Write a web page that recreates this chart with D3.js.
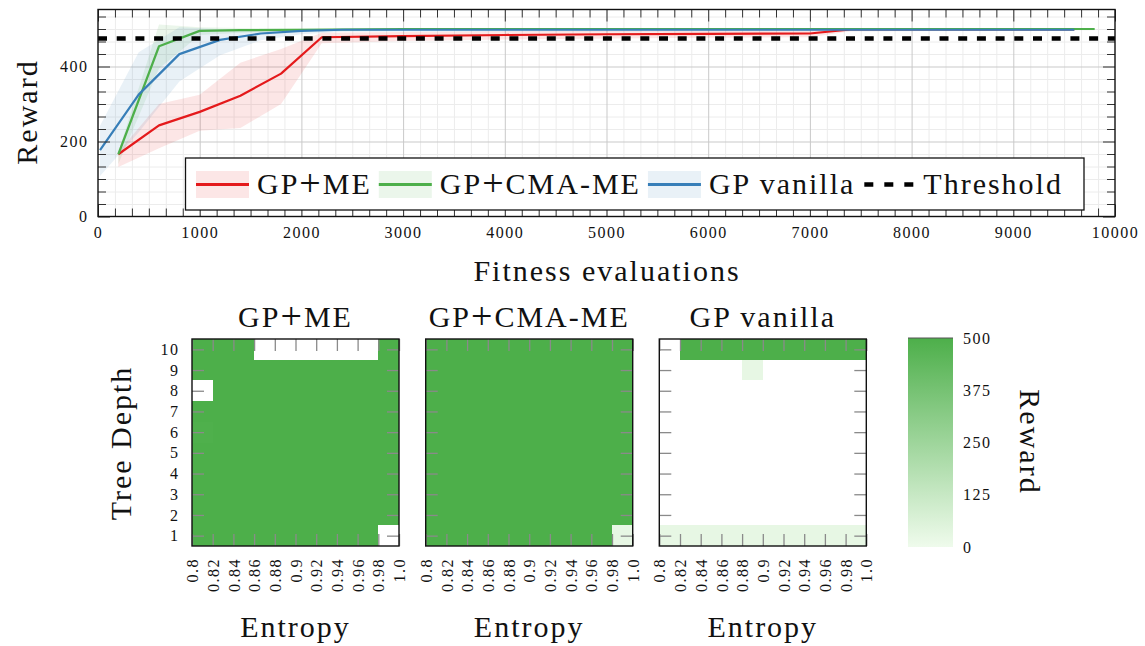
<!DOCTYPE html>
<html lang="en">

<head>
    <meta charset="UTF-8">
    <title>Reward curves and archives</title>
    <script src="https://d3js.org/d3.v7.min.js"></script>
    <style>
        html,
        body {
            margin: 0;
            padding: 0;
            overflow: hidden;
            background: #fff;
        }

        svg {
            display: block;
        }

        svg text {
            font-family: "Liberation Serif", Tinos, "DejaVu Serif", serif;
            fill: #111;
        }

        .tick text {
            font-size: 16px;
            letter-spacing: 1.5px;
        }

        .big {
            font-size: 30px;
            letter-spacing: 2px;
        }
    </style>
</head>

<body>
    <svg id="chart" width="1145" height="646"></svg>

    <script>
        // ---- top panel: reward over fitness evaluations ----
        const evalTicks = [0, 1000, 2000, 3000, 4000, 5000, 6000, 7000, 8000, 9000, 10000];
        const rewardTicks = [0, 200, 400];
        const threshold = 475;

        const meEvals = [200, 600, 1000, 1400, 1800, 2200, 3000, 4000, 5000, 6000, 7000, 7400, 9600];
        const meMean = [166, 243, 279, 322, 381, 478, 481, 484, 486, 487, 488, 499, 499];
        const meLow = [132, 182, 229, 236, 300, 462, 468, 472, 475, 477, 478, 494, 496];
        const meHigh = [172, 300, 325, 410, 447, 490, 492, 494, 495, 496, 497, 500, 500];

        const cmaEvals = [200, 600, 1000, 1400, 2000, 3000, 9800];
        const cmaMean = [166, 454, 495, 497, 498, 500, 500];
        const cmaLow = [140, 395, 484, 490, 494, 497, 497];
        const cmaHigh = [172, 512, 505, 503, 502, 502, 502];

        const vanEvals = [20, 400, 800, 1200, 1600, 2000, 2400, 9600];
        const vanMean = [177, 325, 433, 471, 488, 495, 498, 498];
        const vanLow = [108, 225, 360, 430, 470, 486, 493, 495];
        const vanHigh = [242, 438, 505, 500, 500, 500, 500, 500];

        const legendNames = ["GP+ME", "GP+CMA-ME", "GP vanilla", "Threshold"];
        const legendColors = ["#e41a1c", "#4daf4a", "#377eb8", "#000"];

        // ---- bottom panel: final archives ----
        const entropyTicks = [0.8, 0.82, 0.84, 0.86, 0.88, 0.9, 0.92, 0.94, 0.96, 0.98, 1.0];
        const entropyLabels = ["0.8", "0.82", "0.84", "0.86", "0.88", "0.9", "0.92", "0.94", "0.96", "0.98", "1.0"];
        const depthTicks = [1, 2, 3, 4, 5, 6, 7, 8, 9, 10];
        const archiveTitles = ["GP+ME", "GP+CMA-ME", "GP vanilla"];
        const colorbarTicks = [0, 125, 250, 375, 500];

        // rows: tree depth 1 .. 10, columns: entropy bins 0.80-0.82 .. 0.98-1.00, null = empty
        const archiveMe = [
            [500, 500, 500, 500, 500, 500, 500, 500, 500, null],
            [500, 500, 500, 500, 500, 500, 500, 500, 500, 500],
            [500, 500, 500, 500, 500, 500, 500, 500, 500, 500],
            [500, 500, 500, 500, 500, 500, 500, 500, 500, 500],
            [500, 500, 500, 500, 500, 500, 500, 500, 500, 500],
            [494, 500, 500, 500, 500, 500, 500, 500, 500, 500],
            [500, 500, 500, 500, 500, 500, 500, 500, 500, 500],
            [null, 500, 500, 500, 500, 500, 500, 500, 500, 500],
            [500, 500, 500, 500, 500, 500, 500, 500, 500, 500],
            [500, 500, 500, null, null, null, null, null, null, 500]
        ];
        const archiveCma = [
            [500, 500, 500, 500, 500, 500, 500, 500, 500, 25],
            [500, 500, 500, 500, 500, 500, 500, 500, 500, 500],
            [500, 500, 500, 500, 500, 500, 500, 500, 500, 500],
            [500, 500, 500, 500, 500, 500, 500, 500, 500, 500],
            [500, 500, 500, 500, 500, 500, 500, 500, 500, 500],
            [500, 500, 500, 500, 500, 500, 500, 500, 500, 500],
            [500, 500, 500, 500, 500, 500, 500, 500, 500, 500],
            [500, 500, 500, 500, 500, 500, 500, 500, 500, 500],
            [500, 500, 500, 500, 500, 500, 500, 500, 500, 500],
            [500, 500, 500, 500, 500, 500, 500, 500, 500, 500]
        ];
        const archiveVanilla = [
            [25, 25, 25, 25, 25, 25, 25, 25, 25, 25],
            [null, null, null, null, null, null, null, null, null, null],
            [null, null, null, null, null, null, null, null, null, null],
            [null, null, null, null, null, null, null, null, null, null],
            [null, null, null, null, null, null, null, null, null, null],
            [null, null, null, null, null, null, null, null, null, null],
            [null, null, null, null, null, null, null, null, null, null],
            [null, null, null, null, null, null, null, null, null, null],
            [null, null, null, null, 25, null, null, null, null, null],
            [null, 500, 500, 500, 500, 500, 500, 500, 500, 500]
        ];

        const svg = d3.select("#chart");

        function cleanAxis(g, color, width) {
            g.select(".domain").remove();
            g.selectAll(".tick line").attr("stroke", color).attr("stroke-width", width);
        }

        // the '+' sign is bigger in the original typesetting
        function setLabel(text, str) {
            str.split("+").forEach((part, i) => {
                if (i > 0) {
                    text.append("tspan").attr("font-size", "38px").attr("dy", 2).text("+");
                    text.append("tspan").attr("dy", -2).text(part);
                } else {
                    text.append("tspan").text(part);
                }
            });
            return text;
        }

        // ================= top chart =================
        const x = d3.scaleLinear().domain([0, 10000]).range([98, 1115]);
        const y = d3.scaleLinear().domain([0, 552]).range([216.5, 9.5]);
        const plotW = 1115 - 98;
        const plotH = 216.5 - 9.5;

        const minorEval = d3.range(60).map(i => i * 1000 / 6).filter((v, i) => i % 6 !== 0);
        const minorReward = d3.range(17).map(i => i * 200 / 6).filter((v, i) => i % 6 !== 0);

        const topPanel = svg.append("g");

        // grid
        topPanel.append("g").attr("transform", `translate(0,${y(0)})`)
            .call(d3.axisBottom(x).tickValues(minorEval).tickSize(-plotH).tickFormat(""))
            .call(g => cleanAxis(g, "#ececec", 1));
        topPanel.append("g").attr("transform", `translate(${x(0)},0)`)
            .call(d3.axisLeft(y).tickValues(minorReward).tickSize(-plotW).tickFormat(""))
            .call(g => cleanAxis(g, "#ececec", 1));
        topPanel.append("g").attr("transform", `translate(0,${y(0)})`)
            .call(d3.axisBottom(x).tickValues(evalTicks.slice(1, -1)).tickSize(-plotH).tickFormat(""))
            .call(g => cleanAxis(g, "#c9c9c9", 1));
        topPanel.append("g").attr("transform", `translate(${x(0)},0)`)
            .call(d3.axisLeft(y).tickValues(rewardTicks.slice(1)).tickSize(-plotW).tickFormat(""))
            .call(g => cleanAxis(g, "#c9c9c9", 1));

        // bands and lines
        svg.append("clipPath").attr("id", "plotClip")
            .append("rect").attr("x", x(0)).attr("y", y(552)).attr("width", plotW).attr("height", plotH);

        const series = [
            { evals: meEvals, mean: meMean, low: meLow, high: meHigh, color: legendColors[0] },
            { evals: cmaEvals, mean: cmaMean, low: cmaLow, high: cmaHigh, color: legendColors[1] },
            { evals: vanEvals, mean: vanMean, low: vanLow, high: vanHigh, color: legendColors[2] }
        ].map(s => ({
            color: s.color,
            points: s.evals.map((e, i) => ({ e, m: s.mean[i], lo: s.low[i], hi: s.high[i] }))
        }));

        const plot = topPanel.append("g").attr("clip-path", "url(#plotClip)");

        const area = d3.area().x(d => x(d.e)).y0(d => y(d.lo)).y1(d => y(d.hi));
        const line = d3.line().x(d => x(d.e)).y(d => y(d.m));

        plot.selectAll("path.band").data(series).enter().append("path")
            .attr("class", "band")
            .attr("d", d => area(d.points))
            .attr("fill", d => d.color)
            .attr("fill-opacity", 0.11);

        plot.selectAll("path.mean").data(series).enter().append("path")
            .attr("class", "mean")
            .attr("d", d => line(d.points))
            .attr("fill", "none")
            .attr("stroke", d => d.color)
            .attr("stroke-width", 2.2)
            .attr("stroke-linejoin", "round");

        plot.append("line")
            .attr("x1", x(0)).attr("x2", x(10000))
            .attr("y1", y(threshold)).attr("y2", y(threshold))
            .attr("stroke", "#000")
            .attr("stroke-width", 4.5)
            .attr("stroke-dasharray", "9,9.7");

        // ticks on all four sides
        topPanel.append("g").attr("transform", `translate(0,${y(0)})`)
            .call(d3.axisBottom(x).tickValues(minorEval).tickSize(-8).tickFormat(""))
            .call(g => cleanAxis(g, "#333", 1));
        topPanel.append("g").attr("transform", `translate(0,${y(552)})`)
            .call(d3.axisTop(x).tickValues(minorEval).tickSize(-8).tickFormat(""))
            .call(g => cleanAxis(g, "#333", 1));
        topPanel.append("g").attr("transform", `translate(${x(0)},0)`)
            .call(d3.axisLeft(y).tickValues(minorReward).tickSize(-8).tickFormat(""))
            .call(g => cleanAxis(g, "#333", 1));
        topPanel.append("g").attr("transform", `translate(${x(10000)},0)`)
            .call(d3.axisRight(y).tickValues(minorReward).tickSize(-8).tickFormat(""))
            .call(g => cleanAxis(g, "#333", 1));

        topPanel.append("g").attr("transform", `translate(0,${y(0)})`)
            .call(d3.axisBottom(x).tickValues(evalTicks).tickSize(-12).tickPadding(10).tickFormat(d3.format("d")))
            .call(g => cleanAxis(g, "#333", 1));
        topPanel.append("g").attr("transform", `translate(0,${y(552)})`)
            .call(d3.axisTop(x).tickValues(evalTicks).tickSize(-12).tickFormat(""))
            .call(g => cleanAxis(g, "#333", 1));
        topPanel.append("g").attr("transform", `translate(${x(0)},0)`)
            .call(d3.axisLeft(y).tickValues(rewardTicks).tickSize(-12).tickPadding(9.5).tickFormat(d3.format("d")))
            .call(g => cleanAxis(g, "#333", 1));
        topPanel.append("g").attr("transform", `translate(${x(10000)},0)`)
            .call(d3.axisRight(y).tickValues(rewardTicks).tickSize(-12).tickFormat(""))
            .call(g => cleanAxis(g, "#333", 1));

        topPanel.append("rect")
            .attr("x", x(0)).attr("y", y(552)).attr("width", plotW).attr("height", plotH)
            .attr("fill", "none").attr("stroke", "#111").attr("stroke-width", 1.4);

        // legend
        const legend = topPanel.append("g");
        legend.append("rect")
            .attr("x", 185.5).attr("y", 158).attr("width", 898.5).attr("height", 52)
            .attr("fill", "#fff").attr("stroke", "#111").attr("stroke-width", 1.3);

        let lx = 196;
        legendNames.forEach((name, i) => {
            const color = legendColors[i];
            if (i < 3) {
                legend.append("rect")
                    .attr("x", lx).attr("y", 171).attr("width", 53).attr("height", 27)
                    .attr("fill", color).attr("fill-opacity", 0.11);
                legend.append("line")
                    .attr("x1", lx).attr("x2", lx + 53).attr("y1", 184.5).attr("y2", 184.5)
                    .attr("stroke", color).attr("stroke-width", 3);
            } else {
                legend.append("line")
                    .attr("x1", lx + 2).attr("x2", lx + 51).attr("y1", 184.5).attr("y2", 184.5)
                    .attr("stroke", color).attr("stroke-width", 4.5)
                    .attr("stroke-dasharray", "9,11");
            }
            const t = legend.append("text")
                .attr("class", "big")
                .attr("x", lx + 61).attr("y", 193.5);
            setLabel(t, name);
            lx += 61 + t.node().getBBox().width + 7;
        });

        topPanel.append("text").attr("class", "big")
            .attr("text-anchor", "middle")
            .attr("x", 607).attr("y", 281)
            .text("Fitness evaluations");

        topPanel.append("text").attr("class", "big")
            .attr("text-anchor", "middle")
            .attr("transform", "translate(37,112) rotate(-90)")
            .text("Reward");

        // ================= archives =================
        const color = d3.scaleLinear().domain([0, 500]).range(["#effbec", "#4daf4a"]);
        const cellSize = 207;
        const archiveLefts = [192, 425.7, 659.3];
        const archives = [archiveMe, archiveCma, archiveVanilla];

        archives.forEach((grid, k) => {
            const x0 = archiveLefts[k];
            const hx = d3.scaleLinear().domain([0.8, 1.0]).range([x0, x0 + cellSize]);
            const hy = d3.scaleLinear().domain([0.5, 10.5]).range([546, 339]);
            const g = svg.append("g");

            const cells = [];
            grid.forEach((row, r) => row.forEach((v, c) => {
                if (v !== null) cells.push({ depth: depthTicks[r], c, v });
            }));

            g.selectAll("rect.cell").data(cells).enter().append("rect")
                .attr("class", "cell")
                .attr("x", d => hx(entropyTicks[d.c]))
                .attr("width", d => hx(entropyTicks[d.c + 1]) - hx(entropyTicks[d.c]))
                .attr("y", d => hy(d.depth + 0.5))
                .attr("height", d => hy(d.depth - 0.5) - hy(d.depth + 0.5))
                .attr("fill", d => color(d.v))
                .attr("shape-rendering", "crispEdges");

            g.append("g").attr("transform", `translate(0,${hy(0.5)})`)
                .call(d3.axisBottom(hx).tickValues(entropyTicks).tickSize(-12).tickFormat((d, i) => entropyLabels[i]))
                .call(a => cleanAxis(a, "#8a8a8a", 1.3))
                .call(a => a.selectAll(".tick text")
                    .attr("transform", "rotate(-90)")
                    .attr("text-anchor", "end")
                    .attr("x", -12).attr("y", 0).attr("dy", "0.35em"));
            g.append("g").attr("transform", `translate(0,${hy(10.5)})`)
                .call(d3.axisTop(hx).tickValues(entropyTicks).tickSize(-12).tickFormat(""))
                .call(a => cleanAxis(a, "#8a8a8a", 1.3));
            g.append("g").attr("transform", `translate(${x0},0)`)
                .call(d3.axisLeft(hy).tickValues(depthTicks).tickSize(-12).tickPadding(12.5)
                    .tickFormat(k === 0 ? d3.format("d") : ""))
                .call(a => cleanAxis(a, "#8a8a8a", 1.3));
            g.append("g").attr("transform", `translate(${x0 + cellSize},0)`)
                .call(d3.axisRight(hy).tickValues(depthTicks).tickSize(-12).tickFormat(""))
                .call(a => cleanAxis(a, "#8a8a8a", 1.3));

            g.append("rect")
                .attr("x", x0).attr("y", 339).attr("width", cellSize).attr("height", cellSize)
                .attr("fill", "none").attr("stroke", "#111").attr("stroke-width", 1.4);

            setLabel(g.append("text").attr("class", "big")
                .attr("text-anchor", "middle")
                .attr("x", x0 + cellSize / 2).attr("y", 327), archiveTitles[k]);

            g.append("text").attr("class", "big")
                .attr("text-anchor", "middle")
                .attr("x", x0 + cellSize / 2).attr("y", 637)
                .text("Entropy");
        });

        svg.append("text").attr("class", "big")
            .attr("text-anchor", "middle")
            .attr("transform", "translate(131,443) rotate(-90)")
            .text("Tree Depth");

        // colorbar
        const cy = d3.scaleLinear().domain([0, 500]).range([547, 338]);
        const grad = svg.append("defs").append("linearGradient")
            .attr("id", "cbar").attr("x1", 0).attr("y1", 1).attr("x2", 0).attr("y2", 0);
        grad.selectAll("stop").data(colorbarTicks).enter().append("stop")
            .attr("offset", d => d / 500)
            .attr("stop-color", d => color(d));

        svg.append("rect")
            .attr("x", 908).attr("y", cy(500)).attr("width", 45).attr("height", cy(0) - cy(500))
            .attr("fill", "url(#cbar)");
        svg.append("line")
            .attr("x1", 908).attr("x2", 953).attr("y1", cy(500)).attr("y2", cy(500))
            .attr("stroke", "#555").attr("stroke-width", 1);

        svg.append("g").attr("transform", "translate(953,0)")
            .call(d3.axisRight(cy).tickValues(colorbarTicks).tickSize(0).tickPadding(10))
            .call(a => a.select(".domain").remove());

        svg.append("text").attr("class", "big")
            .attr("text-anchor", "middle")
            .attr("transform", "translate(1020,442) rotate(90)")
            .text("Reward");
    </script>
</body>

</html>
